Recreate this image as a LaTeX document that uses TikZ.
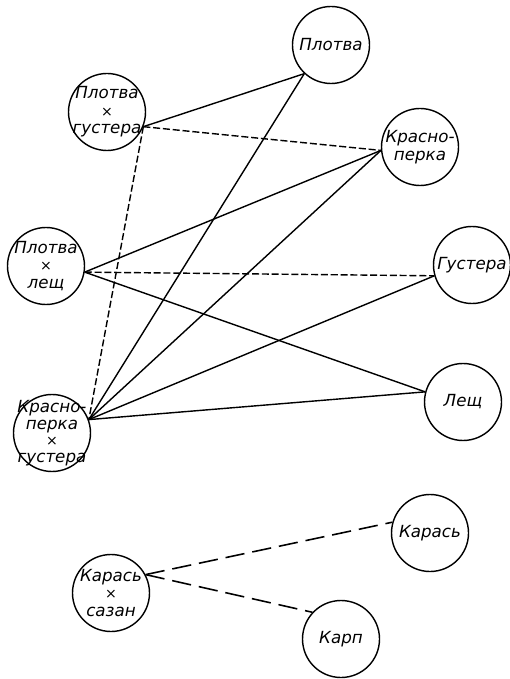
\documentclass[tikz,border=0pt]{standalone}
\usepackage{fontspec}
\setmainfont{DejaVu Sans}
\usetikzlibrary{positioning}
\tikzset{
  fnode/.style={draw, circle, line width=0.8pt, minimum size=1.54cm, inner sep=-8pt,
                align=center, font=\itshape\fontsize{9.5}{10}\selectfont},
  tie/.style={line width=0.8pt},
  weaktie/.style={line width=0.8pt, dash pattern=on 4pt off 1.6pt},
  fartie/.style={line width=0.9pt, dash pattern=on 11pt off 4.5pt},
}
\begin{document}
\begin{tikzpicture}
\useasboundingbox (0,0) rectangle (10.2,-13.58);
% hybrids (left)
\node[fnode] (plgus) at (2.14,-2.24) {Плотва\\{\footnotesize ×}\\густера};
\node[fnode] (pllesh) at (0.92,-5.32) {Плотва\\{\footnotesize ×}\\лещ};
\node[fnode, font=\itshape\fontsize{9.5}{9.5}\selectfont] (krgus) at (1.04,-8.66) {Красно-\\перка\\{\footnotesize ×}\\густера};
\node[fnode] (karsaz) at (2.22,-11.86) {Карась\\{\footnotesize ×}\\сазан};

% parent species (right)
\node[fnode] (plotva) at (6.62,-0.90) {Плотва};
\node[fnode] (krasn) at (8.40,-2.94) {Красно-\\перка};
\node[fnode] (gust) at (9.44,-5.30) {Густера};
\node[fnode] (lesh) at (9.26,-8.04) {Лещ};
\node[fnode] (karas) at (8.60,-10.66) {Карась};
\node[fnode] (karp) at (6.82,-12.78) {Карп};

% Плотва x густера
\draw[tie] (plgus.-22) -- (plotva.227);
\draw[weaktie] (plgus.-22) -- (krasn.185);
\draw[weaktie] (plgus.-22) -- (krgus.20);

% Плотва x лещ
\draw[tie] (pllesh.-9) -- (krasn.185);
\draw[weaktie] (pllesh.-9) -- (gust.196);
\draw[tie] (pllesh.-9) -- (lesh.165);

% Красноперка x густера
\draw[tie] (krgus.20) -- (plotva.227);
\draw[tie] (krgus.20) -- (krasn.185);
\draw[tie] (krgus.20) -- (gust.196);
\draw[tie] (krgus.20) -- (lesh.165);

% Карась x сазан
\draw[fartie] (karsaz.28) -- (karas.164);
\draw[fartie] (karsaz.28) -- (karp.137);
\end{tikzpicture}
\end{document}
